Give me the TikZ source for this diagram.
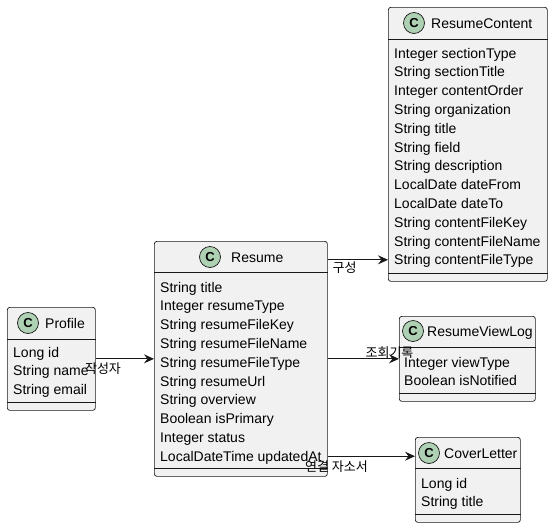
\documentclass[tikz,border=0pt]{standalone}
\usepackage{fontspec}
\setmainfont{Liberation Sans}
\newfontfamily\kofont{Noto Sans CJK KR}
\usetikzlibrary{arrows.meta}

\definecolor{umlfill}{HTML}{F1F1F1}
\definecolor{umlline}{HTML}{181818}
\definecolor{umlcirc}{HTML}{ADD1B2}

\tikzset{
  classbox/.style={draw=umlline,fill=umlfill,line width=0.7pt,rounded corners=2.5pt,
    inner sep=0pt,anchor=north west},
  sepline/.style={draw=umlline,line width=0.7pt},
  classmark/.style={circle,draw=umlline,fill=umlcirc,line width=0.7pt,minimum size=21pt,
    inner sep=0pt,font=\fontsize{13}{13}\selectfont\bfseries},
  classtitle/.style={anchor=west,inner sep=0pt,text height=10pt,text depth=0pt,
    font=\fontsize{14}{14}\selectfont},
  field/.style={anchor=west,inner sep=0pt,text height=10pt,text depth=0pt,
    font=\fontsize{14}{14}\selectfont},
  rel/.style={draw=umlline,line width=1pt,-{Stealth[length=10pt,width=9pt,inset=3.5pt]}},
  rellabel/.style={inner sep=0pt,font=\kofont\fontsize{13}{13}\selectfont},
}

\begin{document}
\begin{tikzpicture}[x=1pt,y=-1pt]
       \useasboundingbox (0,0) rectangle (552,528);
       % class boxes
       \node[classbox,minimum width=88pt,minimum height=103pt] (profile) at (7,307) {};
       \node[classbox,minimum width=173pt,minimum height=235pt] (resume) at (154,241) {};
       \node[classbox,minimum width=159pt,minimum height=274pt] (content) at (388,7) {};
       \node[classbox,minimum width=136pt,minimum height=85pt] (viewlog) at (399,316) {};
       \node[classbox,minimum width=105pt,minimum height=85pt] (cover) at (415,437) {};
       % compartments
       \draw[sepline] (profile.west |- 0,339) -- (profile.east |- 0,339);
       \draw[sepline] (profile.west |- 0,402) -- (profile.east |- 0,402);
       \draw[sepline] (resume.west |- 0,272) -- (resume.east |- 0,272);
       \draw[sepline] (resume.west |- 0,468) -- (resume.east |- 0,468);
       \draw[sepline] (content.west |- 0,39) -- (content.east |- 0,39);
       \draw[sepline] (content.west |- 0,273) -- (content.east |- 0,273);
       \draw[sepline] (viewlog.west |- 0,347) -- (viewlog.east |- 0,347);
       \draw[sepline] (viewlog.west |- 0,393) -- (viewlog.east |- 0,393);
       \draw[sepline] (cover.west |- 0,468) -- (cover.east |- 0,468);
       \draw[sepline] (cover.west |- 0,514) -- (cover.east |- 0,514);
       % headers
       \node[classmark] (profile-c) at (28,323) {C};
       \node[classtitle] (profile-t) at (45,323) {Profile};
       \node[classmark] (resume-c) at (210,257) {C};
       \node[classtitle] (resume-t) at (231,257) {Resume};
       \node[classmark] (content-c) at (414,23) {C};
       \node[classtitle] (content-t) at (431,23) {ResumeContent};
       \node[classmark] (viewlog-c) at (413,331) {C};
       \node[classtitle] (viewlog-t) at (427,331) {ResumeViewLog};
       \node[classmark] (cover-c) at (429,453) {C};
       \node[classtitle] (cover-t) at (444,453) {CoverLetter};
       % fields
       \foreach \f [count=\i] in {Long id,String name,String email}
         \node[field] (profile-\i) at (13,352+18.8*\i-18.8) {\f};
       \foreach \f [count=\i] in {String title,Integer resumeType,String resumeFileKey,
           String resumeFileName,String resumeFileType,String resumeUrl,String overview,
           Boolean isPrimary,Integer status,LocalDateTime updatedAt}
         \node[field] (resume-\i) at (160,287+18.8*\i-18.8) {\f};
       \foreach \f [count=\i] in {Integer sectionType,String sectionTitle,Integer contentOrder,
           String organization,String title,String field,String description,
           LocalDate dateFrom,LocalDate dateTo,String contentFileKey,
           String contentFileName,String contentFileType}
         \node[field] (content-\i) at (394,53+18.8*\i-18.8) {\f};
       \foreach \f [count=\i] in {Integer viewType,Boolean isNotified}
         \node[field] (viewlog-\i) at (404,362+18.8*\i-18.8) {\f};
       \foreach \f [count=\i] in {Long id,String title}
         \node[field] (cover-\i) at (421,483+18.8*\i-18.8) {\f};
       % relations
       \draw[rel] (profile.east) -- (resume.west |- profile.east);
       \draw[rel] (resume.east |- content-12) -- (content.west |- content-12);
       \draw[rel] (resume.east |- viewlog.west) -- (viewlog.west);
       \draw[rel] (resume.east |- resume-10) -- (cover.west |- resume-10);
       \node[rellabel] (author-l) at (103,369) {작성자};
       \node[rellabel] (content-l) at (344.5,268) {구성};
       \node[rellabel] (viewlog-l) at (389.5,353) {조회기록};
       \node[rellabel] (cover-l) at (336.5,467) {연결 자소서};
      \end{tikzpicture}
\end{document}
